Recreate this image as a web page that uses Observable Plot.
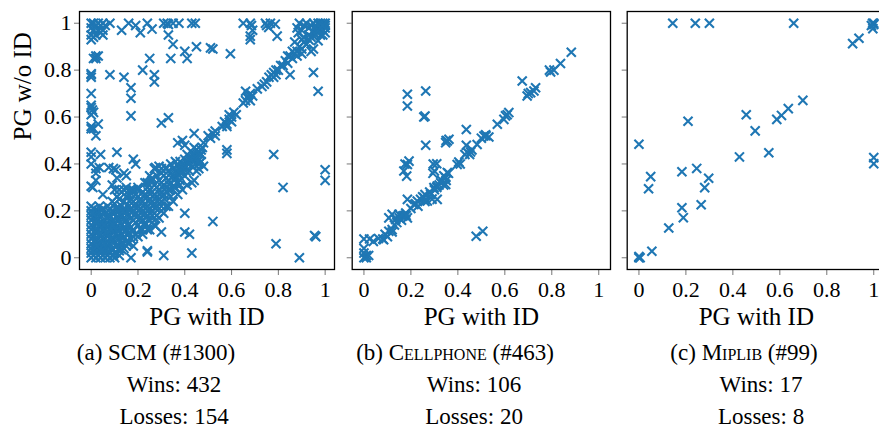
<!DOCTYPE html>
<html><head><meta charset="utf-8">
<script src="https://cdn.jsdelivr.net/npm/d3@7"></script>
<script src="https://cdn.jsdelivr.net/npm/@observablehq/plot@0.6"></script>
<style>
html,body{margin:0;padding:0;background:#fff;overflow:hidden;}
#wrap{position:relative;width:879px;height:428px;overflow:hidden;font-family:"Liberation Serif",serif;}
.pan{position:absolute;top:0;}
.pan svg{max-width:none !important;}
.pan svg text{font-family:"Liberation Serif",serif !important;}
.cap{position:absolute;white-space:nowrap;transform:translateX(-50%);font-size:23px;line-height:22px;color:#000;}
.sc{font-variant:small-caps;}
</style></head>
<body><div id="wrap"></div>
<script>
const tickValues = [0, 0.2, 0.4, 0.6, 0.8, 1];
const xLabel = "PG with ID";
const yLabel = "PG w/o ID";
const captionTitles = [["(a) ", "SCM", " (#1300)", false], ["(b) ", "Cellphone", " (#463)", true], ["(c) ", "Miplib", " (#99)", true]];
const wins = [432, 106, 17];
const losses = [154, 20, 8];

const scmPoints = [
[0,1],[0.01,1],[0.02,0.99],[0.03,1],[0.04,0.99],[0.05,1],[0,0.98],[0.01,0.97],[0.03,0.97],[0.05,0.97],[0,0.95],[0.02,0.95],[0.04,0.96],[0.06,0.99],[0.01,0.94],[0.05,0.95],[0,0.93],
[0.08,1],[0.13,0.97],[0.16,1],[0.19,0.99],[0.21,0.96],[0.24,1],[0.26,0.975],[0.31,1],[0.325,1],[0.33,0.995],[0.35,1],[0.375,1],[0.43,1],[0.445,1],[0.33,0.95],[0.35,0.91],[0.40,0.88],[0.41,0.85],[0.45,0.90],[0.25,0.85],[0.34,0.85],[0.51,0.895],[0.52,0.89],[0.595,0.87],[0.65,1],[0.68,1],[0.69,0.97],[0.68,0.945],[0.68,0.93],[0.745,1],[0.766,1],[0.787,0.996],[0.759,0.982],[0.795,0.945],[0.75,0.99],[0.685,0.99],
[0.88,0.98],[0.89,1],[0.9,0.97],[0.91,0.99],[0.92,1],[0.93,0.98],[0.94,0.99],[0.95,1],[0.96,0.98],[0.97,1],[0.98,0.99],[0.99,1],[1,1],[1,0.98],[0.99,0.97],[0.97,0.96],[0.95,0.96],[0.93,0.95],[0.9,0.93],[0.91,0.94],[0.92,0.91],[0.97,0.925],[0.95,0.89],[0.94,0.88],[0.98,0.95],[1,0.96],[0.96,0.99],[0.98,1],[1,0.99],[0.99,0.95],[0.885,0.96],[0.87,0.92],
[0.48,0.49],[0.50,0.52],[0.51,0.51],[0.52,0.53],[0.53,0.52],[0.53,0.54],[0.56,0.56],[0.57,0.58],[0.58,0.57],[0.59,0.59],[0.60,0.60],[0.61,0.62],[0.59,0.61],[0.58,0.56],[0.60,0.58],[0.62,0.61],[0.65,0.66],[0.66,0.67],[0.67,0.68],[0.68,0.70],[0.68,0.67],[0.66,0.71],[0.69,0.69],[0.67,0.69],[0.71,0.72],[0.73,0.73],[0.74,0.74],[0.75,0.75],[0.76,0.77],[0.77,0.78],[0.78,0.79],[0.79,0.80],[0.80,0.80],[0.78,0.77],[0.79,0.78],[0.81,0.82],[0.82,0.82],[0.83,0.84],[0.84,0.83],[0.85,0.86],[0.86,0.85],[0.87,0.87],[0.88,0.88],[0.89,0.90],[0.90,0.89],[0.91,0.92],[0.92,0.91],[0.93,0.93],[0.94,0.94],[0.95,0.96],[0.96,0.95],[0.97,0.97],[0.98,0.98],[0.99,0.99],[0.86,0.88],[0.88,0.86],[0.9,0.87],[0.84,0.86],
[0.78,0.44],[0.82,0.30],[1,0.375],[1,0.33],[0.79,0.06],[0.89,0.0],[0.96,0.09],[0.955,0.095],[0.95,0.79],[0.97,0.71],[0.85,0.78],[0.58,0.46],[0.58,0.445],[0.52,0.155],[0.43,0.02],[0.40,0.19],[0.40,0.11],[0.42,0.10],[0.31,0.01],[0.24,0.03],[0.24,0.025],[0.17,0.0],[0.13,0.035],[0.30,0.11],[0.275,0.135],[0.43,0.32],[0.48,0.39],[0.44,0.33],[0.42,0.37],
[0.01,0.85],[0.02,0.86],[0.03,0.86],[0.02,0.85],[0,0.785],[0,0.77],[0,0.78],[0,0.70],[0,0.65],[0.005,0.63],[0,0.61],[0.01,0.62],[0,0.64],[0,0.56],[0.01,0.55],[0.03,0.57],[0,0.55],[0.02,0.52],[0,0.45],[0.04,0.44],[0,0.43],[0.08,0.78],[0.14,0.77],[0.22,0.80],[0.27,0.78],[0.27,0.75],[0.17,0.725],[0.17,0.68],[0.17,0.605],[0.30,0.575],[0.33,0.597],[0.37,0.49],[0.39,0.50],[0.44,0.53],[0.40,0.48],
[0.11,0.45],[0.02,0.38],[0.035,0.385],[0.075,0.385],[0.095,0.38],[0.105,0.375],[0.18,0.42],[0.19,0.40],[0,0.305],[0.007,0.30],[0.05,0.27],[0.10,0.29],[0.12,0.29],[0.14,0.29],[0.16,0.285],[0.18,0.29],[0.2,0.29],[0.24,0.32],[0.26,0.34],[0.275,0.385],[0.30,0.38],[0.32,0.385],[0.02,0.36],[0.15,0.35],[0.11,0.34],[0,0.40],[0.14,0.36],[0.09,0.31],[0.02,0.33],
[0.08,0],[0.1,0],[0.12,0.01],[0.14,0.04],[0.16,0.06],[0.2,0.09],[0.22,0.1],[0.18,0.05],[0.26,0.15],[0.24,0.12],[0.28,0.18],[0.3,0.2],[0.32,0.22],[0.34,0.26],[0.36,0.3],[0.38,0.33],[0.4,0.35],[0.46,0.38],[0.47,0.41],[0.45,0.37],
[0.22,0.12],[0.25,0.12],[0.27,0.14],[0.29,0.17],[0.31,0.19],[0.33,0.22],[0.35,0.24],[0.37,0.27],[0.39,0.29],[0.41,0.31],[0.3,0.22],[0.26,0.18],[0.23,0.15],[0.18,0.09],[0.15,0.05],[0.12,0.04],[0.34,0.29],[0.38,0.31],
[0,0],[0,0.02],[0,0.04],[0,0.06],[0,0.08],[0,0.1],[0,0.12],[0,0.14],[0,0.16],[0,0.18],[0,0.2],[0,0.22],
[0.01,0.01],[0.01,0.05],[0.01,0.09],[0.01,0.13],[0.01,0.17],[0.01,0.21],
[0.02,0],[0.02,0.03],[0.02,0.07],[0.02,0.11],[0.02,0.15],[0.02,0.19],
[0.03,0.01],[0.03,0.04],[0.03,0.08],[0.03,0.12],[0.03,0.16],[0.03,0.2],
[0.04,0],[0.04,0.02],[0.04,0.06],[0.04,0.1],[0.04,0.14],[0.04,0.18],
[0.05,0.01],[0.05,0.04],[0.05,0.08],[0.05,0.12],[0.05,0.16],[0.05,0.21],
[0.06,0],[0.06,0.03],[0.06,0.06],[0.06,0.1],[0.06,0.14],[0.06,0.19],
[0.07,0.01],[0.07,0.05],[0.07,0.09],[0.07,0.13],[0.07,0.17],[0.07,0.22],
[0.08,0.02],[0.08,0.06],[0.08,0.1],[0.08,0.14],[0.08,0.18],
[0.09,0.04],[0.09,0.08],[0.09,0.12],[0.09,0.16],[0.09,0.2],[0.09,0.24],
[0.1,0.02],[0.1,0.07],[0.1,0.11],[0.1,0.15],[0.1,0.19],[0.1,0.23],
[0.11,0.05],[0.11,0.09],[0.11,0.13],[0.11,0.17],[0.11,0.21],[0.11,0.26],
[0.12,0.03],[0.12,0.08],[0.12,0.12],[0.12,0.16],[0.12,0.2],[0.12,0.25],
[0.13,0.06],[0.13,0.1],[0.13,0.14],[0.13,0.18],[0.13,0.22],[0.13,0.28],
[0.14,0.09],[0.14,0.13],[0.14,0.17],[0.14,0.21],[0.14,0.24],
[0.15,0.07],[0.15,0.12],[0.15,0.16],[0.15,0.2],[0.15,0.26],[0.15,0.3],
[0.16,0.1],[0.16,0.14],[0.16,0.18],[0.16,0.22],[0.16,0.27],
[0.17,0.08],[0.17,0.13],[0.17,0.17],[0.17,0.21],[0.17,0.25],[0.17,0.29],
[0.18,0.12],[0.18,0.16],[0.18,0.2],[0.18,0.24],[0.18,0.28],
[0.19,0.1],[0.19,0.15],[0.19,0.19],[0.19,0.23],[0.19,0.27],
[0.2,0.14],[0.2,0.18],[0.2,0.22],[0.2,0.26],[0.2,0.3],
[0.21,0.12],[0.21,0.17],[0.21,0.21],[0.21,0.25],
[0.22,0.16],[0.22,0.2],[0.22,0.24],[0.22,0.28],
[0.23,0.14],[0.23,0.19],[0.23,0.23],[0.23,0.27],[0.23,0.32],
[0.24,0.18],[0.24,0.22],[0.24,0.26],[0.24,0.3],
[0.25,0.16],[0.25,0.21],[0.25,0.25],[0.25,0.29],[0.25,0.35],
[0.26,0.2],[0.26,0.24],[0.26,0.28],[0.26,0.33],
[0.27,0.19],[0.27,0.23],[0.27,0.27],[0.27,0.31],[0.27,0.38],
[0.28,0.22],[0.28,0.26],[0.28,0.3],[0.28,0.35],
[0.29,0.25],[0.29,0.29],[0.29,0.33],[0.29,0.39],
[0.3,0.24],[0.3,0.28],[0.3,0.32],[0.3,0.36],
[0.31,0.27],[0.31,0.31],[0.31,0.35],
[0.32,0.3],[0.32,0.34],[0.32,0.38],
[0.33,0.29],[0.33,0.33],[0.33,0.37],
[0.34,0.32],[0.34,0.36],[0.34,0.4],
[0.35,0.35],[0.35,0.38],
[0.36,0.34],[0.36,0.37],[0.36,0.41],
[0.37,0.36],[0.37,0.39],
[0.38,0.38],[0.38,0.41],
[0.39,0.37],[0.39,0.4],
[0.4,0.39],[0.4,0.42],
[0.41,0.41],[0.41,0.44],
[0.42,0.4],[0.42,0.43],
[0.43,0.42],[0.43,0.45],
[0.44,0.41],[0.44,0.44],[0.44,0.47],
[0.45,0.43],[0.45,0.46],
[0.46,0.42],[0.46,0.45],[0.46,0.4],
[0.47,0.44],[0.47,0.46],
[0.005,0.03],[0.015,0.07],[0.025,0.05],[0.035,0.1],[0.045,0.03],[0.055,0.06],[0.065,0.11],[0.075,0.03],[0.085,0.08],[0.095,0.01],[0.015,0.11],[0.025,0.17],[0.035,0.14],[0.045,0.2],[0.055,0.14],[0.065,0.17],[0.075,0.2],[0.085,0.12],[0.105,0.05],[0.115,0.11],[0.125,0.18],[0.005,0.19],[0.015,0.15],[0.035,0.22],[0.095,0.14],[0.105,0.21],[0.135,0.08],[0.145,0.19],[0.155,0.1],[0.165,0.24],
[0.125,0.15],[0.135,0.2],[0.145,0.11],[0.155,0.14],[0.165,0.2],[0.175,0.11],[0.185,0.18],[0.195,0.21],[0.205,0.16],[0.215,0.19],[0.225,0.22],[0.235,0.17],[0.245,0.2],[0.255,0.23],[0.265,0.26],[0.275,0.21],[0.285,0.24],[0.295,0.27],[0.305,0.3],[0.315,0.25],[0.325,0.28],[0.335,0.31],[0.345,0.34],[0.355,0.3],[0.365,0.32],[0.375,0.35],[0.385,0.36],[0.395,0.39],[0.405,0.37],[0.415,0.4],[0.425,0.42],[0.435,0.39],[0.445,0.43],[0.455,0.41],[0.465,0.44],[0.475,0.47],[0.185,0.22],[0.205,0.24],[0.225,0.26],[0.245,0.28]
];

const cellphonePoints = [
[0,0],[0.01,0.01],[0,0.02],[0.01,0],[0.02,0.01],[0,0.04],[0,0.08],[0.024,0.08],[0.062,0.082],[0.084,0.077],[0.04,0.07],[0.1,0.09],[0.106,0.113],[0.12,0.11],[0.106,0.17],[0.12,0.185],[0.135,0.163],[0.13,0.14],[0.149,0.185],[0.163,0.177],[0.178,0.191],[0.185,0.17],[0.17,0.18],[0.16,0.16],[0.185,0.249],[0.2,0.21],[0.213,0.227],[0.227,0.242],[0.241,0.249],[0.256,0.256],[0.27,0.242],[0.25,0.26],[0.26,0.27],[0.28,0.28],[0.284,0.27],[0.298,0.299],[0.31,0.3],[0.312,0.306],[0.327,0.32],[0.33,0.33],[0.34,0.35],[0.348,0.341],[0.355,0.363],[0.36,0.36],
[0.185,0.398],[0.192,0.412],[0.175,0.40],[0.182,0.348],[0.31,0.401],[0.294,0.36],[0.312,0.249],[0.348,0.313],[0.397,0.398],[0.404,0.408],[0.41,0.40],[0.436,0.547],[0.436,0.48],[0.454,0.451],[0.46,0.46],[0.482,0.483],[0.511,0.519],[0.532,0.515],[0.518,0.524],[0.568,0.569],[0.596,0.59],[0.603,0.605],[0.617,0.619],[0.61,0.61],[0.674,0.754],[0.695,0.69],[0.71,0.704],[0.724,0.711],[0.731,0.725],[0.70,0.70],[0.795,0.792],[0.809,0.8],[0.79,0.80],[0.837,0.828],[0.883,0.876],[0.478,0.092],[0.506,0.113],
[0.185,0.697],[0.185,0.647],[0.263,0.711],[0.26,0.604],[0.255,0.60],[0.263,0.48],[0.355,0.498],[0.362,0.505],[0.348,0.491],[0.35,0.50],[0.22,0.23],[0.23,0.22],[0.26,0.24],[0.29,0.25],[0.3,0.29],[0.32,0.31],[0.35,0.33],[0.34,0.31],[0.08,0.08],[0.14,0.15],[0.15,0.17],[0.12,0.12],[0.18,0.18],[0.09,0.1],[0.43,0.44],[0.45,0.44],[0.44,0.45],[0.52,0.52],[0.5,0.51],[0.17,0.37],[0.295,0.40],[0.3,0.37]
];

const miplibPoints = [
[0.144,1],[0.24,1],[0.30,1],[0.659,1],[1,1],[0.995,1],[1,0.995],[0.99,0.99],[0.996,0.977],[0.91,0.913],[0.937,0.936],[0.698,0.671],[0.636,0.636],[0.607,0.607],[0.587,0.59],[0.457,0.61],[0.495,0.541],[0.553,0.448],[0.428,0.43],[0.209,0.582],[0,0.484],[0.246,0.381],[0.183,0.367],[0.05,0.346],[0.297,0.339],[0.041,0.294],[0.28,0.299],[0.265,0.226],[0.183,0.213],[0.189,0.171],[0.127,0.127],[0.055,0.028],[0,0],[0.005,0],[0,0.005],[1,0.427],[1,0.401]
];

const blue = "#1f77b4";
const fmt = d => String(d);

function panel(points, {width, marginLeft, marginRight, xDomain, showY}) {
  return Plot.plot({
    width, height: 330,
    marginLeft, marginRight, marginTop: 11, marginBottom: 61,
    style: "font-family: 'Liberation Serif', serif; background: transparent; overflow: visible; max-width: none; color: black;",
    x: {domain: xDomain, label: null},
    y: {domain: [-0.05, 1.05], label: null},
    marks: [
      Plot.dot(points, {x: d => d[0], y: d => d[1], symbol: "times", r: 4.2, stroke: blue, strokeWidth: 2.1}),
      Plot.axisX(tickValues, {tickSize: 6, stroke: "#777", tickFormat: () => "", label: null}),
      Plot.axisX(tickValues, {tickSize: 0, tickPadding: 12, tickFormat: fmt, fontSize: 22, fill: "black", label: null}),
      Plot.axisY(tickValues, {tickSize: 5, stroke: "#777", tickFormat: () => "", label: null}),
      showY ? Plot.axisY(tickValues, {tickSize: 0, tickPadding: 8, tickFormat: fmt, fontSize: 22, fill: "black", label: null}) : null,
      Plot.frame({stroke: "black", strokeWidth: 1.3}),
      Plot.text([xLabel], {text: d => d, frameAnchor: "bottom", dy: 47, fontSize: 25, lineAnchor: "middle", fill: "black"}),
      showY ? Plot.text([yLabel], {text: d => d, frameAnchor: "left", rotate: -90, dx: -57, fontSize: 25, lineAnchor: "middle", fill: "black"}) : null
    ]
  });
}

const wrap = document.getElementById("wrap");
const specs = [
  {pts: scmPoints, left: 0, width: 345, marginLeft: 79, marginRight: 11, xDomain: [-0.05, 1.04], showY: true},
  {pts: cellphonePoints, left: 340, width: 282, marginLeft: 11.7, marginRight: 12, xDomain: [-0.05, 1.05], showY: false},
  {pts: miplibPoints, left: 615, width: 282, marginLeft: 11.7, marginRight: 12, xDomain: [-0.05, 1.05], showY: false}
];
for (const s of specs) {
  const svg = panel(s.pts, s);
  const div = document.createElement("div");
  div.className = "pan";
  div.style.left = s.left + "px";
  div.style.width = s.width + "px";
  div.appendChild(svg);
  wrap.appendChild(div);
}

const cap1X = [156, 455, 744];
const capX = [174, 474, 761];
function addCap(html, x, yc) {
  const d = document.createElement("div");
  d.className = "cap";
  d.style.left = x + "px";
  d.style.top = (yc - 11) + "px";
  d.innerHTML = html;
  wrap.appendChild(d);
}
captionTitles.forEach(([pre, name, post, sc], i) => {
  addCap(pre + (sc ? '<span class="sc">' + name + '</span>' : name) + post, cap1X[i], 353);
  addCap("Wins: " + wins[i], capX[i], 385);
  addCap("Losses: " + losses[i], capX[i], 417);
});
</script></body></html>
